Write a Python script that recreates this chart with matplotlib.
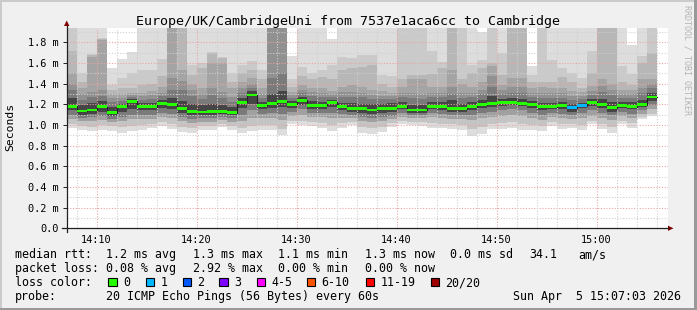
import numpy as np
import matplotlib.pyplot as plt
from matplotlib.patches import Rectangle, Polygon

plt.rcParams['font.family'] = ['DejaVu Sans Mono']

# one bar per 60 s step, first step starts 14:07 (minutes after 14:00)
first_step = 7

# median rtt (ms) per step
median = [1.18, 1.135, 1.145, 1.175, 1.12, 1.18, 1.23, 1.175, 1.175, 1.21,
          1.20, 1.155, 1.13, 1.125, 1.13, 1.13, 1.12, 1.22, 1.29, 1.19,
          1.21, 1.23, 1.20, 1.24, 1.19, 1.19, 1.22, 1.18, 1.16, 1.155,
          1.145, 1.155, 1.16, 1.18, 1.145, 1.145, 1.18, 1.175, 1.16, 1.155,
          1.175, 1.195, 1.21, 1.22, 1.22, 1.21, 1.195, 1.175, 1.175, 1.185,
          1.165, 1.185, 1.22, 1.195, 1.165, 1.185, 1.175, 1.195, 1.27]

# lost pings per step (of 20)
loss = [0, 0, 0, 0, 0, 0, 0, 0, 0, 0,
        0, 0, 0, 0, 0, 0, 0, 0, 0, 0,
        0, 0, 0, 0, 0, 0, 0, 0, 0, 0,
        0, 0, 0, 0, 0, 0, 0, 0, 0, 0,
        0, 0, 0, 0, 0, 0, 0, 0, 0, 0,
        1, 1, 0, 0, 0, 0, 0, 0, 0]

# smoke: upper ping ranks (max first), 2.2 = off the top of the graph
up1 = [2.2, 2.2, 2.2, 2.2, 1.55, 1.64, 1.71, 2.2, 2.2, 2.2,
       2.2, 2.2, 2.2, 2.2, 2.2, 2.2, 2.2, 2.2, 2.2, 2.2,
       2.2, 2.2, 1.67, 2.2, 2.2, 2.2, 1.83, 2.2, 2.2, 2.2,
       2.2, 2.2, 2.2, 2.2, 2.2, 2.2, 2.2, 2.2, 2.2, 2.2,
       2.2, 1.90, 2.2, 2.2, 2.2, 2.2, 1.57, 2.2, 2.2, 2.2,
       2.2, 2.2, 2.2, 2.2, 2.2, 2.2, 1.77, 2.2, 2.2]
up2 = [2.2, 1.50, 1.69, 1.84, 1.39, 1.45, 1.50, 1.53, 1.53, 1.64,
       2.2, 2.2, 1.58, 1.60, 1.71, 1.66, 1.50, 1.58, 1.62, 1.53,
       2.2, 2.2, 1.44, 1.56, 1.50, 1.53, 1.58, 1.66, 1.65, 1.68,
       1.68, 1.48, 1.47, 2.2, 2.2, 2.2, 1.72, 1.61, 2.2, 2.2,
       1.58, 1.63, 2.2, 1.70, 2.2, 2.2, 1.48, 2.2, 1.63, 1.55,
       1.50, 1.45, 1.72, 2.2, 2.2, 1.57, 1.49, 1.67, 2.2]
up3 = [1.72, 1.42, 1.68, 1.83, 1.34, 1.36, 1.36, 1.39, 1.40, 1.47,
       2.2, 2.2, 1.48, 1.55, 1.70, 1.65, 1.42, 1.50, 1.53, 1.44,
       2.2, 2.2, 1.37, 1.47, 1.44, 1.46, 1.44, 1.53, 1.55, 1.56,
       1.58, 1.40, 1.37, 1.44, 1.48, 1.48, 1.49, 1.55, 2.2, 1.44,
       1.50, 1.55, 1.60, 1.48, 2.2, 2.2, 1.42, 1.42, 1.42, 1.46,
       1.42, 1.36, 1.50, 2.2, 2.2, 1.42, 1.39, 1.60, 1.70]
up4 = [1.50, 1.36, 1.66, 1.82, 1.30, 1.30, 1.31, 1.31, 1.33, 1.37,
       2.2, 1.53, 1.40, 1.36, 1.60, 1.60, 1.36, 1.42, 1.45, 1.36,
       2.2, 2.2, 1.32, 1.39, 1.36, 1.36, 1.33, 1.37, 1.39, 1.37,
       1.34, 1.33, 1.31, 1.37, 1.44, 1.44, 1.37, 1.37, 1.53, 1.40,
       1.37, 1.42, 1.57, 1.39, 1.45, 1.45, 1.36, 1.37, 1.36, 1.36,
       1.33, 1.32, 1.38, 1.44, 1.40, 1.34, 1.34, 1.44, 1.44]
up5 = [1.40, 1.30, 1.32, 1.34, 1.26, 1.26, 1.29, 1.28, 1.29, 1.31,
       1.45, 1.43, 1.34, 1.30, 1.36, 1.32, 1.27, 1.36, 1.40, 1.30,
       2.2, 2.2, 1.29, 1.34, 1.32, 1.31, 1.30, 1.32, 1.32, 1.31,
       1.29, 1.28, 1.28, 1.31, 1.31, 1.30, 1.31, 1.31, 1.37, 1.31,
       1.31, 1.34, 1.47, 1.34, 1.37, 1.37, 1.31, 1.31, 1.31, 1.31,
       1.28, 1.28, 1.33, 1.38, 1.34, 1.30, 1.30, 1.36, 1.40]
up6 = [1.34, 1.24, 1.27, 1.28, 1.22, 1.23, 1.27, 1.24, 1.25, 1.28,
       1.34, 1.34, 1.28, 1.25, 1.29, 1.26, 1.22, 1.31, 1.36, 1.26,
       1.45, 1.50, 1.26, 1.31, 1.28, 1.27, 1.27, 1.27, 1.27, 1.27,
       1.25, 1.25, 1.25, 1.27, 1.26, 1.25, 1.27, 1.27, 1.30, 1.26,
       1.27, 1.30, 1.37, 1.30, 1.31, 1.31, 1.27, 1.26, 1.26, 1.26,
       1.24, 1.25, 1.29, 1.32, 1.29, 1.26, 1.26, 1.31, 1.36]
up8 = [1.26, 1.19, 1.21, 1.23, 1.17, 1.20, 1.25, 1.21, 1.21, 1.24,
       1.26, 1.23, 1.20, 1.19, 1.20, 1.19, 1.17, 1.26, 1.33, 1.22,
       1.30, 1.33, 1.23, 1.27, 1.23, 1.22, 1.24, 1.21, 1.21, 1.20,
       1.20, 1.20, 1.21, 1.22, 1.19, 1.19, 1.22, 1.22, 1.24, 1.20,
       1.22, 1.24, 1.28, 1.25, 1.26, 1.25, 1.23, 1.21, 1.21, 1.22,
       1.20, 1.21, 1.25, 1.25, 1.22, 1.22, 1.22, 1.24, 1.31]

# smoke: lower ping ranks (min first)
lo1 = [0.97, 0.95, 0.94, 0.955, 0.94, 0.92, 0.94, 0.95, 0.97, 0.99,
       0.96, 0.935, 0.92, 0.955, 0.95, 0.98, 0.95, 0.92, 0.94, 0.955,
       0.955, 0.90, 1.01, 1.00, 0.99, 0.975, 0.94, 0.975, 1.00, 0.925,
       0.91, 0.935, 0.98, 1.005, 1.00, 0.99, 0.975, 0.97, 0.96, 0.95,
       0.895, 0.91, 0.96, 0.96, 0.975, 0.95, 0.95, 0.94, 0.99, 0.96,
       0.97, 0.95, 1.005, 0.96, 0.92, 1.005, 0.975, 1.055, 1.085]
lo2 = [1.01, 0.99, 0.98, 1.00, 0.99, 0.98, 0.99, 1.00, 1.01, 1.03,
       1.01, 0.98, 0.97, 0.99, 0.99, 1.01, 0.99, 0.97, 0.99, 1.00,
       1.00, 0.96, 1.04, 1.04, 1.03, 1.02, 1.00, 1.02, 1.03, 0.98,
       0.97, 0.98, 1.02, 1.04, 1.03, 1.03, 1.02, 1.01, 1.01, 1.00,
       0.96, 0.98, 1.01, 1.02, 1.03, 1.01, 1.00, 0.99, 1.03, 1.01,
       1.01, 1.00, 1.04, 1.01, 0.98, 1.04, 1.02, 1.08, 1.11]
lo4 = [1.06, 1.04, 1.04, 1.05, 1.03, 1.04, 1.06, 1.06, 1.06, 1.08,
       1.07, 1.04, 1.02, 1.03, 1.03, 1.05, 1.03, 1.04, 1.07, 1.07,
       1.07, 1.05, 1.09, 1.10, 1.08, 1.08, 1.07, 1.07, 1.07, 1.04,
       1.03, 1.04, 1.06, 1.08, 1.07, 1.07, 1.08, 1.07, 1.06, 1.06,
       1.05, 1.07, 1.08, 1.09, 1.10, 1.09, 1.07, 1.05, 1.08, 1.07,
       1.06, 1.07, 1.09, 1.07, 1.05, 1.09, 1.07, 1.11, 1.15]
lo6 = [1.10, 1.07, 1.08, 1.09, 1.06, 1.08, 1.10, 1.10, 1.10, 1.12,
       1.11, 1.08, 1.06, 1.07, 1.07, 1.08, 1.07, 1.10, 1.14, 1.11,
       1.12, 1.11, 1.13, 1.15, 1.12, 1.12, 1.12, 1.11, 1.10, 1.08,
       1.07, 1.08, 1.09, 1.12, 1.10, 1.10, 1.12, 1.11, 1.10, 1.10,
       1.10, 1.12, 1.13, 1.14, 1.15, 1.14, 1.12, 1.10, 1.12, 1.11,
       1.10, 1.12, 1.14, 1.12, 1.10, 1.13, 1.11, 1.14, 1.19]
lo8 = [1.14, 1.10, 1.11, 1.13, 1.09, 1.13, 1.15, 1.14, 1.14, 1.16,
       1.15, 1.12, 1.10, 1.10, 1.10, 1.11, 1.10, 1.16, 1.20, 1.15,
       1.16, 1.17, 1.16, 1.19, 1.15, 1.15, 1.17, 1.14, 1.13, 1.12,
       1.11, 1.12, 1.13, 1.15, 1.12, 1.12, 1.15, 1.14, 1.13, 1.13,
       1.14, 1.16, 1.17, 1.18, 1.19, 1.18, 1.16, 1.14, 1.15, 1.15,
       1.13, 1.16, 1.18, 1.16, 1.13, 1.16, 1.15, 1.17, 1.23]

loss_labels = ['0', '1', '2', '3', '4-5', '6-10', '11-19', '20/20']
loss_colors = ['#26ff00', '#00b8ff', '#0059ff', '#7e00ff', '#ff00ff',
               '#ff5500', '#ff0000', '#a00000']

W, H = 697, 310
L, R, T, B = 67, 668, 28, 228.3

fig = plt.figure(figsize=(W / 100, H / 100), dpi=100, facecolor='#f0f0f0')
ax = fig.add_axes([L / W, (H - B) / H, (R - L) / W, (B - T) / H])
ax.set_facecolor('white')

x = np.arange(len(median)) + first_step
med = np.array(median)

# smoke, outer (light) to inner (dark)
for hi, c in zip([up1, up2, up3, up4, up5, up6, up8],
                 ['#dddddd', '#cacaca', '#b7b7b7', '#a4a4a4', '#919191', '#7a7a7a', '#454545']):
    ax.bar(x, np.array(hi) - med, bottom=med, width=1, align='edge', color=c,
           linewidth=0, antialiased=False, zorder=1)
for lo, c in zip([lo1, lo2, lo4, lo6, lo8],
                 ['#dddddd', '#c4c4c4', '#a0a0a0', '#7a7a7a', '#454545']):
    ax.bar(x, med - np.array(lo), bottom=lo, width=1, align='edge', color=c,
           linewidth=0, antialiased=False, zorder=1)

# grid on top of the smoke
for v in np.arange(0.1, 1.95, 0.1):
    major = round(v * 10) % 2 == 0
    ax.axhline(v, color='#eaa4a4' if major else '#d0d0d0', lw=0.8,
               ls=(0, (1, 1.5)), zorder=2)
for m in range(8, 68, 2):
    ax.axvline(m, color='#eaa4a4' if m % 10 == 0 else '#d0d0d0', lw=0.8,
               ls=(0, (1, 1.5)), zorder=2)

# median line, coloured by loss
ax.plot(np.append(x, x[-1] + 1), np.append(med, med[-1]), drawstyle='steps-post',
        color='#202020', lw=0.8, zorder=3)
ax.bar(x, 0.028, bottom=med - 0.014, width=1, align='edge',
       color=[loss_colors[n] for n in loss], linewidth=0, antialiased=False, zorder=4)

ax.set_xlim(7.04, 67.14)
ax.set_ylim(0, 1.938)
yt = np.arange(0, 1.81, 0.2)
ax.set_yticks(yt)
ax.set_yticklabels(['0.0'] + ['%.1f m' % v for v in yt[1:]], fontsize=7.4)
ax.set_xticks([10, 20, 30, 40, 50, 60])
ax.set_xticklabels(['14:10', '14:20', '14:30', '14:40', '14:50', '15:00'], fontsize=7.4)
ax.tick_params(axis='y', length=3, width=0.7, color='#202020', pad=3)
ax.tick_params(axis='x', length=0, pad=5)
for s in ax.spines.values():
    s.set_visible(False)

# overlay in pixel coordinates for frame, axes arrows and legend
ov = fig.add_axes([0, 0, 1, 1], zorder=5)
ov.set_xlim(0, W)
ov.set_ylim(H, 0)
ov.axis('off')

ov.add_patch(Rectangle((0, 0), W, 2, color='#cbcbcb', lw=0))
ov.add_patch(Rectangle((0, 0), 2, H, color='#cbcbcb', lw=0))
ov.add_patch(Rectangle((W - 3, 0), 3, H, color='#999999', lw=0))
ov.add_patch(Rectangle((0, H - 2), W, 2, color='#999999', lw=0))

ov.plot([L - 0.3, L - 0.3], [B + 4, 26], color='#202020', lw=0.9)
ov.plot([L - 5, R], [B, B], color='#202020', lw=0.9)
ov.add_patch(Polygon([(L - 3, 26), (L + 2.4, 26), (L - 0.3, 20.5)], color='#800000', lw=0))
ov.add_patch(Polygon([(R, B - 2.6), (R, B + 2.6), (R + 5.5, B)], color='#800000', lw=0))

ov.text(348.5, 24.5, 'Europe/UK/CambridgeUni from 7537e1aca6cc to Cambridge',
        ha='center', va='baseline', fontsize=9.6)
ov.text(10, 127, 'Seconds', rotation=90, ha='center', va='center', fontsize=8.2)
ov.text(687.5, 60, 'RRDTOOL / TOBI OETIKER', rotation=270, ha='center', va='center',
        fontsize=6, color='#b4b4b4')

fs = 8.4
rows = [
    (258.3, [(16, 'median rtt:'), (107, '1.2 ms avg'), (194, '1.3 ms max'), (279, '1.1 ms min'),
             (366, '1.3 ms now'), (451, '0.0 ms sd'), (530, '34.1'), (579, 'am/s')]),
    (272.3, [(16, 'packet loss:'), (107, '0.08 % avg'), (194, '2.92 % max'), (279, '0.00 % min'),
             (366, '0.00 % now')]),
    (286.0, [(16, 'loss color:')]),
    (300.0, [(16, 'probe:'), (107, '20 ICMP Echo Pings (56 Bytes) every 60s')]),
]
for yb, items in rows:
    for xs, s in items:
        ov.text(xs - 1, yb, s, ha='left', va='baseline', fontsize=fs)
ov.text(681, 300, 'Sun Apr  5 15:07:03 2026', ha='right', va='baseline', fontsize=fs)

box_x = [108.3, 145.7, 182.7, 219.3, 256.7, 306.7, 365.7, 430.7]
for bx, lab, c in zip(box_x, loss_labels, loss_colors):
    ov.add_patch(Rectangle((bx, 277.5), 8.4, 8.4, facecolor=c, edgecolor='black', lw=0.8))
    ov.text(bx + 14.5, 286, lab, ha='left', va='baseline', fontsize=fs)

fig.savefig('out.png', dpi=100, facecolor=fig.get_facecolor())
